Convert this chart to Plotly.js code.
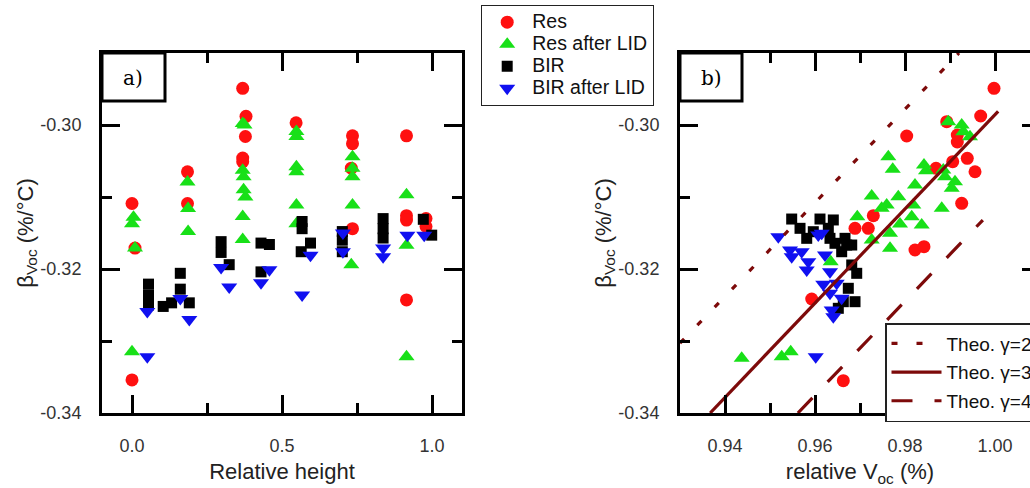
<!DOCTYPE html>
<html><head><meta charset="utf-8">
<script src="https://cdn.plot.ly/plotly-3.0.1.min.js"></script>
<style>html,body{margin:0;padding:0;overflow:hidden;background:#fff}#chart{width:1100px;height:488px}</style>
</head><body><div id="chart"></div>
<script>
// ---------- Panel a: beta_Voc vs relative height ----------
const resHeight = [0.0, 0.01, 0.0, 0.185, 0.185, 0.369, 0.38, 0.378, 0.369, 0.369, 0.547, 0.735, 0.735, 0.731, 0.735, 0.915, 0.915, 0.915, 0.915, 0.98, 0.98];
const resBeta   = [-0.3109, -0.3171, -0.3354, -0.3065, -0.3109, -0.2949, -0.2988, -0.3016, -0.3046, -0.3051, -0.2997, -0.3015, -0.3026, -0.3060, -0.3144, -0.3015, -0.3126, -0.3132, -0.3243, -0.3130, -0.3141];

const resLidHeight = [0.005, 0.0, 0.01, 0.0, 0.185, 0.187, 0.187, 0.369, 0.375, 0.369, 0.372, 0.372, 0.378, 0.369, 0.369, 0.548, 0.548, 0.548, 0.548, 0.548, 0.548, 0.735, 0.735, 0.735, 0.735, 0.731, 0.915, 0.915, 0.915];
const resLidBeta   = [-0.3128, -0.3137, -0.3171, -0.3315, -0.3079, -0.3116, -0.3148, -0.2998, -0.3000, -0.3063, -0.3072, -0.3090, -0.3100, -0.3127, -0.3159, -0.3009, -0.3016, -0.3058, -0.3065, -0.3111, -0.3137, -0.3044, -0.3060, -0.3072, -0.3111, -0.3194, -0.3097, -0.3167, -0.3322];

const birHeight = [0.055, 0.055, 0.055, 0.104, 0.132, 0.161, 0.161, 0.191, 0.297, 0.297, 0.324, 0.43, 0.458, 0.43, 0.567, 0.567, 0.564, 0.595, 0.701, 0.701, 0.701, 0.837, 0.837, 0.837, 0.971, 0.999];
const birBeta   = [-0.3221, -0.3236, -0.3250, -0.3252, -0.3247, -0.3206, -0.3228, -0.3247, -0.3162, -0.3177, -0.3194, -0.3164, -0.3166, -0.3204, -0.3134, -0.3144, -0.3176, -0.3164, -0.3148, -0.3160, -0.3176, -0.3130, -0.3144, -0.3157, -0.3131, -0.3153];

const birLidHeight = [0.051, 0.051, 0.161, 0.191, 0.297, 0.324, 0.43, 0.458, 0.567, 0.595, 0.703, 0.703, 0.837, 0.837, 0.918, 0.974];
const birLidBeta   = [-0.3322, -0.3259, -0.3241, -0.3270, -0.3198, -0.3225, -0.3219, -0.3201, -0.3236, -0.3181, -0.3150, -0.3176, -0.3171, -0.3183, -0.3153, -0.3153];

// ---------- Panel b: beta_Voc vs relative Voc ----------
const resVoc  = [0.99978, 0.99682, 0.98038, 0.98927, 0.99162, 0.99162, 0.99384, 0.99556, 0.99060, 0.98689, 0.99260, 0.97296, 0.97184, 0.96889, 0.98222, 0.98422, 0.95927, 0.96629];
const resBetaB = [-0.2949, -0.29875, -0.30153, -0.29954, -0.30139, -0.30236, -0.30463, -0.30649, -0.30510, -0.30601, -0.31088, -0.31260, -0.31435, -0.31435, -0.31736, -0.31690, -0.32417, -0.33551];

const resLidVoc   = [0.98962, 0.99260, 0.99296, 0.99444, 0.97629, 0.97727, 0.98422, 0.98467, 0.98851, 0.98889, 0.99111, 0.99038, 0.98222, 0.97260, 0.97851, 0.97593, 0.98184, 0.98816, 0.98149, 0.97889, 0.98371, 0.97667, 0.97260, 0.97667, 0.96940, 0.97482, 0.96349, 0.94371, 0.95260, 0.95460];
const resLidBetaB = [-0.29954, -0.30000, -0.30093, -0.30162, -0.30440, -0.30615, -0.30556, -0.30635, -0.30625, -0.30718, -0.30788, -0.30879, -0.30833, -0.30986, -0.30996, -0.31111, -0.31111, -0.31157, -0.31274, -0.31375, -0.31389, -0.31504, -0.31597, -0.31713, -0.31274, -0.31157, -0.31899, -0.33240, -0.33218, -0.33149];

const birVoc   = [0.95482, 0.95667, 0.96111, 0.96407, 0.95816, 0.95962, 0.96296, 0.96333, 0.96444, 0.96667, 0.96704, 0.96593, 0.96816, 0.96927, 0.96740, 0.96629, 0.96889, 0.96518, 0.96816];
const birBetaB = [-0.31306, -0.31435, -0.31306, -0.31319, -0.31574, -0.31482, -0.31435, -0.31574, -0.31643, -0.31574, -0.31667, -0.31760, -0.31944, -0.32060, -0.32268, -0.32454, -0.32454, -0.32546, -0.31667];

const birLidVoc   = [0.95185, 0.95444, 0.95482, 0.95704, 0.96073, 0.96149, 0.95816, 0.96222, 0.96333, 0.96184, 0.96482, 0.96333, 0.96593, 0.96371, 0.96407, 0.96016, 0.95851];
const birLidBetaB = [-0.31551, -0.31736, -0.31829, -0.31760, -0.31528, -0.31504, -0.32014, -0.31806, -0.32038, -0.32213, -0.32199, -0.32338, -0.32407, -0.32569, -0.32663, -0.33218, -0.31899];

// Theoretical lines (end points)
const theo2Voc = [0.93, 0.992];    const theo2Beta = [-0.3303, -0.29];
const theo3Voc = [0.9367, 1.0007]; const theo3Beta = [-0.34, -0.2981];
const theo4Voc = [0.9562, 0.9973]; const theo4Beta = [-0.34, -0.3132];

// Tick labels
const xTickValsA = [0, 0.5, 1.0];            const xTickTextA = ['0.0', '0.5', '1.0'];
const xTickValsB = [0.94, 0.96, 0.98, 1.00]; const xTickTextB = ['0.94', '0.96', '0.98', '1.00'];
const yTickVals  = [-0.34, -0.32, -0.30];    const yTickText  = ['-0.34', '-0.32', '-0.30'];

const W = 1100, H = 488;
const RED = '#ff1010', GREEN = '#18e018', BLACK = '#000000', BLUE = '#1010f0', MAROON = '#7d0a0a';
const ARIAL = 'Arial, Liberation Sans, sans-serif';

function big(s, px) { return '<span style="font-size:' + px + 'px">' + s + '</span>'; }

function mk(name, x, y, color, symbol, size, xa, ya, show) {
  return {type: 'scatter', mode: 'markers', name: big(name, 19.5), x: x, y: y, xaxis: xa, yaxis: ya,
    showlegend: show, legend: 'legend',
    marker: {color: color, symbol: symbol, size: size, line: {width: 0}}};
}
function ln(name, x, y, dash, grp) {
  return {type: 'scatter', mode: 'lines', name: name, x: x, y: y, xaxis: 'x2', yaxis: 'y2',
    legend: 'legend2', legendgroup: grp,
    line: {color: MAROON, width: 3.2, dash: dash}};
}

const traces = [
  mk('Res', resHeight, resBeta, RED, 'circle', 13, 'x', 'y', true),
  mk('Res after LID', resLidHeight, resLidBeta, GREEN, 'triangle-up', 14, 'x', 'y', true),
  mk('BIR', birHeight, birBeta, BLACK, 'square', 11, 'x', 'y', true),
  mk('BIR after LID', birLidHeight, birLidBeta, BLUE, 'triangle-down', 14, 'x', 'y', true),
  mk('Res', resVoc, resBetaB, RED, 'circle', 13, 'x2', 'y2', false),
  mk('Res after LID', resLidVoc, resLidBetaB, GREEN, 'triangle-up', 14, 'x2', 'y2', false),
  mk('BIR', birVoc, birBetaB, BLACK, 'square', 11, 'x2', 'y2', false),
  mk('BIR after LID', birLidVoc, birLidBetaB, BLUE, 'triangle-down', 14, 'x2', 'y2', false),
  ln('Theo. γ=2', theo2Voc, theo2Beta, '6px,19px', 'g2'),
  ln('Theo. γ=3', theo3Voc, theo3Beta, 'solid', 'g3'),
  ln('Theo. γ=4', theo4Voc, theo4Beta, '21px,22px', 'g4')
];

const tickFont = {family: ARIAL, size: 18, color: '#333'};
const titleFont = {family: ARIAL, size: 22, color: '#222'};
function axis(extra) {
  return Object.assign({
    showline: true, linewidth: 3, linecolor: '#000', mirror: 'allticks',
    ticks: 'inside', ticklen: 18, tickwidth: 3, tickcolor: '#000',
    showgrid: false, zeroline: false, fixedrange: true,
    tickmode: 'array', tickfont: tickFont
  }, extra);
}
function minor(vals) {
  return {tickvals: vals, ticks: 'inside', ticklen: 10, tickwidth: 3, tickcolor: '#000', showgrid: false};
}
const yDom = [(H - 413) / H, (H - 53) / H];

const layout = {
  width: W, height: H,
  margin: {l: 0, r: 0, t: 0, b: 0, autoexpand: false},
  paper_bgcolor: '#fff', plot_bgcolor: '#fff',
  xaxis: axis({domain: [102 / W, 462 / W], range: [-0.1, 1.1], anchor: 'y',
    tickvals: xTickValsA, ticktext: xTickTextA, ticklabelstandoff: 14, minor: minor([0.25, 0.75]),
    title: {text: 'Relative height', font: titleFont, standoff: 10}}),
  yaxis: axis({domain: yDom, range: [-0.34, -0.29], anchor: 'x',
    tickvals: yTickVals, ticktext: yTickText, ticklabelstandoff: 14, minor: minor([-0.33, -0.31]),
    title: {text: 'β<sub>Voc</sub> (%/°C)', font: titleFont, standoff: 0}}),
  xaxis2: axis({domain: [680 / W, 1040 / W], range: [0.93, 1.01], anchor: 'y2',
    tickvals: xTickValsB, ticktext: xTickTextB, ticklabelstandoff: 14, minor: minor([0.95, 0.97, 0.99, 1.01]),
    title: {text: 'relative V<sub>oc</sub> (%)', font: titleFont, standoff: 10}}),
  yaxis2: axis({domain: yDom, range: [-0.34, -0.29], anchor: 'x2',
    tickvals: yTickVals, ticktext: yTickText, ticklabelstandoff: 14, minor: minor([-0.33, -0.31]),
    title: {text: 'β<sub>Voc</sub> (%/°C)', font: titleFont, standoff: 0}}),
  legend: {x: 481 / W, y: (H - 5) / H, xanchor: 'left', yanchor: 'top',
    bgcolor: '#fff', bordercolor: '#222', borderwidth: 1.2, itemwidth: 40,
    entrywidth: 178, entrywidthmode: 'pixels',
    font: {family: ARIAL, size: 14.6, color: '#111'}},
  legend2: {x: 885 / W, y: (H - 323) / H, xanchor: 'left', yanchor: 'top',
    bgcolor: '#fff', bordercolor: '#222', borderwidth: 1.5, itemwidth: 50,
    traceorder: 'grouped', tracegroupgap: 1,
    font: {family: ARIAL, size: 19, color: '#111'}},
  shapes: [
    {type: 'rect', xref: 'x domain', yref: 'y domain', x0: 0, x1: 63 / 360, y0: 1 - 48 / 360, y1: 1,
      line: {color: '#000', width: 3}, fillcolor: '#fff', layer: 'above'},
    {type: 'rect', xref: 'x2 domain', yref: 'y2 domain', x0: 0, x1: 62 / 360, y0: 1 - 48 / 360, y1: 1,
      line: {color: '#000', width: 3}, fillcolor: '#fff', layer: 'above'}
  ],
  annotations: [
    {text: 'a)', xref: 'paper', yref: 'paper', x: 133 / W, y: (H - 78) / H, xanchor: 'center', yanchor: 'middle',
      showarrow: false, font: {family: 'DejaVu Serif, serif', size: 20, color: '#000'}},
    {text: 'b)', xref: 'paper', yref: 'paper', x: 711 / W, y: (H - 78) / H, xanchor: 'center', yanchor: 'middle',
      showarrow: false, font: {family: 'DejaVu Serif, serif', size: 20, color: '#000'}}
  ]
};

Plotly.newPlot('chart', traces, layout, {staticPlot: true, displayModeBar: false});
</script>
</body></html>
